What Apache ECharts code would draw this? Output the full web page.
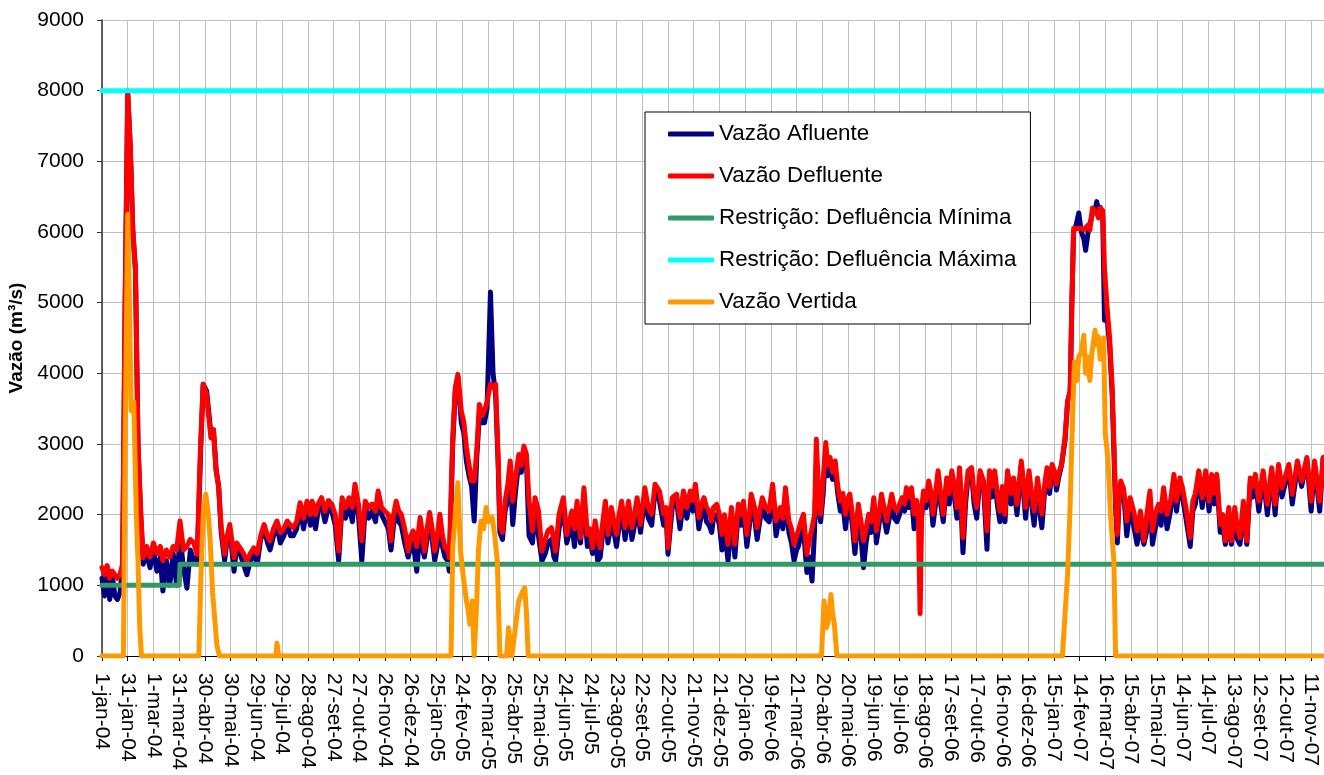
<!DOCTYPE html>
<html>
<head>
<meta charset="utf-8">
<script src="https://cdn.jsdelivr.net/npm/echarts@6/dist/echarts.min.js"></script>
<style>
html,body{margin:0;padding:0;background:#fff;}
#chart{width:1324px;height:775px;}
</style>
</head>
<body>
<div id="chart"></div>
<script>
// ---- DATA (day number counted from 1-jan-04) ----
const xTickLabels = ["1-jan-04","31-jan-04","1-mar-04","31-mar-04","30-abr-04","30-mai-04","29-jun-04","29-jul-04","28-ago-04","27-set-04","27-out-04","26-nov-04","26-dez-04","25-jan-05","24-fev-05","26-mar-05","25-abr-05","25-mai-05","24-jun-05","24-jul-05","23-ago-05","22-set-05","22-out-05","21-nov-05","21-dez-05","20-jan-06","19-fev-06","21-mar-06","20-abr-06","20-mai-06","19-jun-06","19-jul-06","18-ago-06","17-set-06","17-out-06","16-nov-06","16-dez-06","15-jan-07","14-fev-07","16-mar-07","15-abr-07","15-mai-07","14-jun-07","14-jul-07","13-ago-07","12-set-07","12-out-07","11-nov-07"];

const seriesNames = ["Vazão Afluente","Vazão Defluente","Restrição: Defluência Mínima","Restrição: Defluência Máxima","Vazão Vertida"];

const flowDays = [
0,3,6,9,12,15,18,21,24,27,30,33,36,39,42,45,48,52,56,60,64,68,71,75,79,83,87,91,95,99,103,107,111,115,118,122,127,130,133,136,139,143,146,149,
154,157,161,165,169,173,177,181,185,189,193,196,200,204,208,212,216,220,223,227,231,235,239,243,245,249,252,256,260,264,268,272,276,280,284,288,292,295,299,303,307,311,315,319,322,326,330,334,337,340,343,346,349,353,357,360,363,367,371,374,376,379,382,385,388,391,394,397,400,403,405,409,412,415,419,422,425,428,431,434,437,440,443,446,449,
453,456,459,462,464,467,470,473,476,479,482,486,489,492,495,498,502,505,509,513,517,520,524,527,529,533,538,542,545,548,551,554,558,562,566,569,572,575,578,581,584,587,590,594,597,600,603,606,610,614,618,621,624,628,633,637,641,645,650,655,658,660,663,665,670,674,678,682,686,689,692,696,699,702,705,708,711,713,717,720,723,726,730,734,738,742,745,748,752,755,757,
761,764,767,770,774,778,782,786,789,791,794,797,801,804,807,810,812,815,818,822,825,828,831,833,836,838,841,844,846,849,852,855,858,861,864,867,869,872,875,878,882,885,888,891,894,897,900,903,906,909,912,915,918,921,924,927,930,933,936,938,941,944,947,950,952,954,956,958,961,964,967,969,972,975,978,981,985,988,991,994,997,1000,1004,1007,1010,1014,1017,1020,1024,1028,1032,1035,1038,1041,1044,1047,1050,1053,1056,1060,1063,1067,
1072,1075,1077,1081,1084,1087,1091,1094,1096,1099,1102,1105,1108,1111,1113,1116,1119,1123,1126,1129,1131,1133,1136,1139,1142,1145,1147,1150,1152,1155,1158,1160,1162,1164,1167,1169,1172,1175,1178,1180,1182,1184,1186,1188,1191,1193,1195,1199,1203,1207,1211,1215,1218,1222,1225,1228,1232,1235,1238,1242,1246,1250,1253,1257,1260,1264,1269,1272,1275,1279,1283,1287,1291,1294,1297,1300,1304,1307,1310,1314,1317,1321,1324,1327,1331,1335,1339,1342,1345,1349,1354,1359,1364,1368,1372,1376,1379,
1384,1388,1394,1399,1405,1410,1414,1420,1424,1426];

const vazaoDefluente = [
1250,1150,1280,1100,1200,1150,1100,1150,1300,5000,8000,7200,6000,5500,3000,2100,1390,1550,1400,1600,1450,1550,1350,1500,1400,1550,1500,1910,1500,1550,1650,1600,1440,3000,3845,3700,3090,3200,2620,2400,1815,1440,1700,1860,
1390,1600,1530,1450,1345,1450,1530,1450,1700,1860,1700,1630,1800,1910,1750,1800,1910,1850,1815,1900,2170,1950,2190,2000,2190,2000,2150,2240,2050,2200,2146,2000,1485,2240,2100,2240,2100,2430,2150,1630,2190,2100,2150,2050,2335,2100,2050,2000,1630,2000,2190,2050,2005,1800,1485,1700,1770,1550,1960,1700,1485,1800,2030,1800,1485,1700,2005,1700,1530,1500,1390,3090,3800,3985,3467,3300,2950,2700,2475,2475,2900,3560,3400,3467,3600,
3845,3800,3845,2800,1860,1750,2190,2400,2760,2190,2500,2850,2700,2970,2850,2190,1770,2240,2050,1485,1650,1770,1815,1650,1485,2005,2240,1720,1900,2050,1800,2190,1675,2380,1720,1800,1530,1910,1700,1530,1900,2190,1720,2100,1900,1720,2000,2190,1815,2190,1815,2000,2240,1860,2380,2100,2005,2430,2335,2005,2100,1530,2000,2240,2290,1960,2335,2100,2335,2200,2430,1960,2150,2240,2100,2050,1910,2100,2146,2000,1720,2000,1580,2100,1580,2146,2000,2190,1720,2000,2290,
2100,1815,2050,2240,2100,2050,2430,1910,2050,2100,1950,2380,1910,1800,1580,1700,1770,1900,2005,1440,1650,1815,2000,3066,2200,2005,2500,3020,2700,2810,2600,2760,2400,2190,2300,2005,2200,2290,2000,1630,2146,1900,1630,1800,2005,1900,2240,1770,2000,2290,2100,1910,2100,2290,2100,2050,2150,2240,2150,2380,2250,2380,2005,2200,2000,600,2100,2335,2200,2475,2300,2005,2300,2620,2300,2005,2520,2300,2620,2400,2100,2665,1675,2300,2620,2665,2300,2100,2620,2475,1770,2620,2400,2620,2300,2050,2400,2005,2620,2300,2520,2146,
2760,2400,2100,2620,2300,2050,2520,2200,2005,2400,2665,2400,2710,2600,2430,2600,2710,3090,3600,3750,5000,6050,6050,6050,6050,6030,6030,6100,6030,6340,6300,6270,6200,6340,6300,5500,4940,4500,3800,2995,2200,1720,2300,2475,2380,2200,1910,2240,2050,1770,2050,1630,1960,2335,1770,2000,2146,2050,2380,2005,2190,2570,2190,2520,2380,2100,1675,2190,2300,2620,2240,2620,2190,2570,2300,2570,1860,2000,1630,2100,1630,2100,1800,1675,2190,1630,2520,2400,2570,2190,2620,2146,2665,2146,2710,2380,2500,
2710,2290,2760,2475,2810,2190,2760,2190,2810,2600];

const vazaoAfluente = [
1100,850,1200,800,1150,850,800,900,1250,5000,7950,7200,6000,5450,3000,2000,1300,1450,1250,1500,1200,1400,920,1350,1000,1450,1000,1700,1250,960,1500,1350,1300,2900,3845,3750,3150,3200,2650,2400,1750,1350,1650,1800,
1200,1550,1450,1300,1150,1350,1450,1300,1650,1800,1600,1500,1700,1850,1600,1700,1850,1700,1700,1800,2100,1800,2100,1850,2100,1800,2050,2150,1900,2100,2050,1850,1345,2150,1950,2150,1900,2350,2000,1345,2100,1950,2050,1900,2250,2000,1900,1800,1500,1850,2100,1900,1850,1600,1400,1550,1600,1200,1800,1500,1400,1650,1900,1650,1350,1550,1900,1550,1400,1350,1200,3000,3750,3950,3300,3150,2750,2550,2400,1910,2800,3400,3300,3300,3500,
5150,4000,3700,2700,1750,1650,2050,2200,2600,1860,2300,2750,2600,2900,2750,1700,1600,2100,1700,1345,1450,1600,1650,1400,1345,1800,2100,1600,1750,1850,1550,2050,1600,2200,1550,1650,1450,1750,1345,1400,1750,2050,1600,1900,1750,1550,1850,2050,1650,2050,1650,1850,2100,1750,2250,1950,1850,2350,2200,1850,1950,1440,1850,2100,2200,1800,2200,1950,2250,2050,2350,1800,2000,2100,1900,1850,1750,1950,2000,1850,1500,1800,1345,1950,1400,2050,1850,2100,1550,1850,2200,
1950,1650,1900,2150,1950,1900,2350,1700,1900,2000,1800,2250,1750,1600,1350,1500,1550,1700,1800,1180,1400,1060,1800,2700,2050,1900,2300,2950,2550,2650,2500,2650,2300,2050,2150,1800,2050,2150,1850,1450,2000,1700,1250,1600,1850,1750,2150,1600,1850,2200,1950,1750,1950,2200,1950,1900,2000,2150,2050,2300,2100,2300,1800,2050,1900,1950,2000,2250,2100,2400,2150,1850,2150,2550,2150,1900,2450,2150,2550,2250,1950,2600,1460,2150,2550,2600,2150,1950,2550,2400,1510,2550,2250,2550,2150,1900,2250,1900,2550,2150,2450,2000,
2700,2250,1950,2550,2150,1850,2450,2000,1815,2300,2600,2300,2650,2550,2350,2550,2700,3050,3600,3750,5000,6000,6100,6270,6000,5900,5740,6000,6100,6270,6300,6430,6300,6350,6200,4750,4800,4400,3700,2900,2100,1600,2200,2450,2300,2050,1700,2100,1850,1580,1850,1580,1750,2200,1580,1800,2000,1850,2300,1800,2050,2500,2050,2450,2250,1950,1550,2050,2150,2550,2100,2550,2050,2500,2150,2500,1750,1850,1580,1950,1580,1950,1650,1580,2050,1580,2450,2250,2500,2050,2550,2000,2600,2000,2650,2250,2400,
2650,2150,2700,2400,2780,2050,2700,2050,2800,2550];

const vertidaDays = [0,25,27,30,32,34,37,40,42,44,46,113,115,118,121,124,126,129,131,134,137,203,204,206,407,409,412,415,418,421,425,427,429,432,434,437,439,442,445,448,451,455,458,461,464,472,474,476,478,480,484,486,490,493,495,497,839,842,845,847,850,852,854,857,1120,1123,1126,1129,1132,1134,1137,1139,1142,1145,1147,1149,1152,1154,1158,1160,1162,1164,1166,1168,1170,1173,1176,1180,1182,1426];
const vazaoVertida = [0,0,3000,6250,5000,3470,3600,2000,1345,400,0,0,1000,2000,2290,2000,1675,900,590,150,0,0,180,0,0,1530,2000,2450,1500,1155,780,650,450,780,0,780,1500,1910,1800,2100,1900,1960,1700,1345,0,0,400,400,0,0,600,780,900,965,600,0,0,780,400,500,870,600,450,0,0,590,1155,2146,3467,4160,3900,4235,4300,4540,4000,4235,3900,4250,4610,4400,4520,4200,4280,4500,3137,2800,2000,1345,0,0];

const minDays = [0,90,91,1426];
const defluenciaMinima = [1000,1000,1300,1300];
const maxDays = [0,1426];
const defluenciaMaxima = [8000,8000];

const yTicks = {min:0, max:9000, interval:1000};
const xRange = {min:0, max:1425, interval:30};

// ---- CHART ----
const FONT = "'Liberation Sans', Arial, sans-serif";
const pairs = (xs, ys) => xs.map((x, i) => [x, ys[i]]);
const chart = echarts.init(document.getElementById('chart'), null, {renderer:'canvas'});

function lineSeries(name, data, color, width){
  return {name, type:'line', data, showSymbol:false, symbol:'none', animation:false,
    lineStyle:{color, width, cap:'round', join:'round'}, itemStyle:{color}};
}

chart.setOption({
  animation:false,
  backgroundColor:'#ffffff',
  grid:{left:102, right:0, top:20, bottom:119, containLabel:false, outerBoundsMode:'none'},
  legend:{
    orient:'vertical', left:645, top:112,
    itemWidth:46, itemHeight:5, itemGap:20, icon:'roundRect',
    backgroundColor:'#ffffff', borderColor:'#000000', borderWidth:1, borderRadius:0,
    padding:[11,14,11,23],
    textStyle:{fontSize:22.4, color:'#000', fontFamily:FONT},
    data:seriesNames
  },
  xAxis:{
    type:'value', min:xRange.min, max:xRange.max, interval:xRange.interval,
    axisLine:{show:true, onZero:false, lineStyle:{color:'#000', width:1}},
    axisTick:{show:true, inside:false, length:5, lineStyle:{color:'#000'}},
    axisLabel:{
      rotate:-90, margin:17, fontSize:21, color:'#000', fontFamily:FONT, hideOverlap:false,
      formatter:function(v){ if (v % 30 !== 0) return ''; const s = xTickLabels[v/30]; return s || ''; }
    },
    splitLine:{show:true, lineStyle:{color:'#c0c0c0', width:1}}
  },
  yAxis:{
    type:'value', min:yTicks.min, max:yTicks.max, interval:yTicks.interval,
    name:'Vazão (m³/s)', nameLocation:'middle', nameGap:64, nameRotate:90,
    nameTextStyle:{fontSize:19, fontWeight:'bold', color:'#000', fontFamily:FONT},
    axisLine:{show:true, lineStyle:{color:'#333', width:1.5}},
    axisTick:{show:true, inside:false, length:5, lineStyle:{color:'#333'}},
    axisLabel:{margin:18, fontSize:21, color:'#000', fontFamily:FONT, formatter:function(v){ return String(v); }},
    splitLine:{show:true, lineStyle:{color:'#c0c0c0', width:1}}
  },
  series:[
    lineSeries(seriesNames[0], pairs(flowDays, vazaoAfluente), '#000080', 5),
    lineSeries(seriesNames[1], pairs(flowDays, vazaoDefluente), '#ff0000', 5),
    lineSeries(seriesNames[2], pairs(minDays, defluenciaMinima), '#339966', 5),
    lineSeries(seriesNames[3], pairs(maxDays, defluenciaMaxima), '#00ffff', 5),
    lineSeries(seriesNames[4], pairs(vertidaDays, vazaoVertida), '#ff9900', 5)
  ]
});
</script>
</body>
</html>
